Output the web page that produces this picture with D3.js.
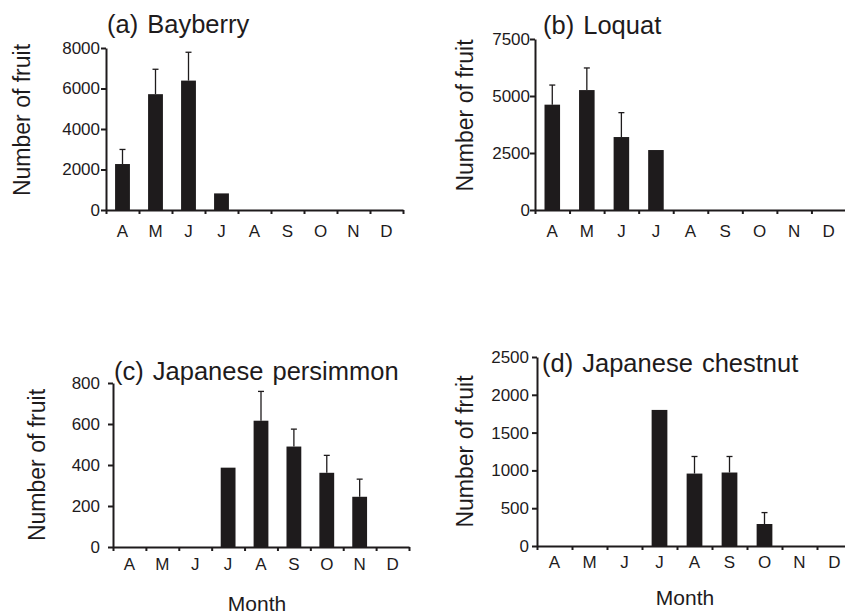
<!DOCTYPE html>
<html>
<head>
<meta charset="utf-8">
<script src="https://cdn.jsdelivr.net/npm/d3@7"></script>
<style>
body { margin: 0; background: #fff; }
svg { display: block; font-family: "Liberation Sans", Arial, sans-serif; }
</style>
</head>
<body>
<svg id="chart" width="845" height="615"></svg>
<script>
const months = ["A", "M", "J", "J", "A", "S", "O", "N", "D"];
const titles = ["(a) Bayberry", "(b) Loquat", "(c) Japanese persimmon", "(d) Japanese chestnut"];

const bayberryMean = [2270, 5720, 6390, 820, 0, 0, 0, 0, 0];
const bayberryErr = [720, 1230, 1400, 0, 0, 0, 0, 0, 0];
const loquatMean = [4620, 5260, 3200, 2630, 0, 0, 0, 0, 0];
const loquatErr = [860, 970, 1070, 0, 0, 0, 0, 0, 0];
const persimmonMean = [0, 0, 0, 387, 616, 490, 362, 245, 0];
const persimmonErr = [0, 0, 0, 0, 143, 85, 85, 86, 0];
const chestnutMean = [0, 0, 0, 1800, 958, 972, 291, 0, 0];
const chestnutErr = [0, 0, 0, 0, 226, 212, 151, 0, 0];

const bayberryTicks = [0, 2000, 4000, 6000, 8000];
const loquatTicks = [0, 2500, 5000, 7500];
const persimmonTicks = [0, 200, 400, 600, 800];
const chestnutTicks = [0, 500, 1000, 1500, 2000, 2500];

const ink = "#1e1b1c";
const svg = d3.select("#chart");

// panel frames (pixels)
const panels = [
	{ mean: bayberryMean, err: bayberryErr, ticks: bayberryTicks, left: 106, right: 403, top: 48, bottom: 210, pad: 1, titleX: 107, titleY: 33, ylabX: 30, labDy: 27, month: null },
	{ mean: loquatMean, err: loquatErr, ticks: loquatTicks, left: 535, right: 846, top: 39, bottom: 210, pad: 0, titleX: 543, titleY: 34, ylabX: 473, labDy: 27, month: null },
	{ mean: persimmonMean, err: persimmonErr, ticks: persimmonTicks, left: 113, right: 409, top: 383, bottom: 547, pad: 8, titleX: 114, titleY: 380, ylabX: 45, labDy: 23, month: [257, 611] },
	{ mean: chestnutMean, err: chestnutErr, ticks: chestnutTicks, left: 537, right: 852, top: 357, bottom: 546, pad: 3, titleX: 542, titleY: 372, ylabX: 473, labDy: 22, month: [685, 605] }
];

panels.forEach((p, k) => {
	const g = svg.append("g");

	const x = d3.scaleBand()
		.domain(d3.range(months.length))
		.range([p.left, p.right])
		.padding(0);

	const xEdge = d3.scaleLinear()
		.domain([0, months.length])
		.range([p.left, p.right]);

	const y = d3.scaleLinear()
		.domain([0, d3.max(p.ticks)])
		.range([p.bottom, p.top]);

	// bars
	const bw = x.bandwidth() * 0.45;
	g.selectAll(".bar")
		.data(p.mean)
		.enter().append("rect")
		.attr("x", (d, i) => x(i) + (x.bandwidth() - bw) / 2)
		.attr("y", d => y(d))
		.attr("width", bw)
		.attr("height", d => p.bottom - y(d))
		.attr("fill", ink);

	// error bars
	const eb = p.mean.map((m, i) => ({ i, m, e: p.err[i] })).filter(d => d.e > 0);
	const cx = d => x(d.i) + x.bandwidth() / 2;
	g.selectAll(".err")
		.data(eb)
		.enter().append("line")
		.attr("x1", cx).attr("x2", cx)
		.attr("y1", d => y(d.m))
		.attr("y2", d => y(d.m + d.e))
		.attr("stroke", ink)
		.attr("stroke-width", 1.3);
	g.selectAll(".cap")
		.data(eb)
		.enter().append("line")
		.attr("x1", d => cx(d) - 3).attr("x2", d => cx(d) + 3)
		.attr("y1", d => y(d.m + d.e))
		.attr("y2", d => y(d.m + d.e))
		.attr("stroke", ink)
		.attr("stroke-width", 1.3);

	// y axis
	const yAxis = g.append("g")
		.attr("transform", `translate(${p.left},0)`)
		.call(d3.axisLeft(y).tickValues(p.ticks).tickSize(5).tickSizeOuter(0).tickPadding(p.pad).tickFormat(d3.format("d")));

	// x axis tick marks
	const xAxis = g.append("g")
		.attr("transform", `translate(0,${p.bottom})`)
		.call(d3.axisBottom(xEdge).tickValues(d3.range(months.length + 1)).tickSize(4).tickSizeOuter(0).tickFormat(""));

	[yAxis, xAxis].forEach(a => {
		a.select(".domain").attr("stroke", ink).attr("stroke-width", 2);
		a.selectAll(".tick line").attr("stroke", ink).attr("stroke-width", 2);
		a.selectAll("text").attr("fill", ink).attr("font-size", 17).attr("font-family", null);
	});

	// month labels
	g.selectAll(".mlab")
		.data(months)
		.enter().append("text")
		.attr("x", (d, i) => x(i) + x.bandwidth() / 2)
		.attr("y", p.bottom + p.labDy)
		.attr("text-anchor", "middle")
		.attr("font-size", 17)
		.attr("fill", ink)
		.text(d => d);

	// panel title
	g.append("text")
		.attr("x", p.titleX)
		.attr("y", p.titleY)
		.attr("font-size", 25.5)
		.attr("word-spacing", 2)
		.attr("fill", ink)
		.text(titles[k]);

	// y label
	g.append("text")
		.attr("transform", `translate(${p.ylabX},${(p.top + p.bottom) / 2 + (k < 2 ? -9 : 0)}) rotate(-90)`)
		.attr("text-anchor", "middle")
		.attr("font-size", 23)
		.attr("fill", ink)
		.text("Number of fruit");

	if (p.month) {
		g.append("text")
			.attr("x", p.month[0])
			.attr("y", p.month[1])
			.attr("text-anchor", "middle")
			.attr("font-size", 21)
			.attr("fill", ink)
			.text("Month");
	}
});
</script>
</body>
</html>
